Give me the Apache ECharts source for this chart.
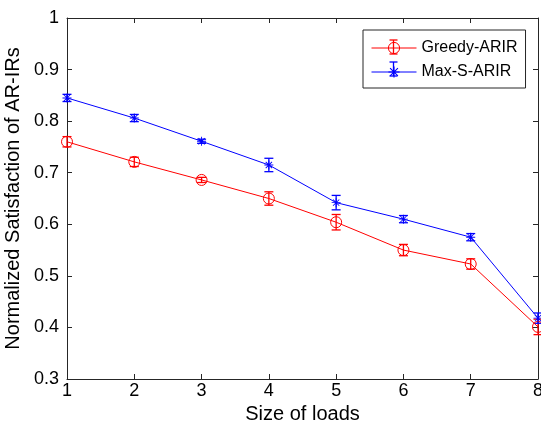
<!DOCTYPE html>
<html>
<head>
<meta charset="utf-8">
<script src="https://cdn.jsdelivr.net/npm/echarts@6/dist/echarts.min.js"></script>
<style>html,body{margin:0;padding:0;background:#fff}#c{width:541px;height:433px}</style>
</head>
<body>
<div id="c"></div>
<script>
var categories = [1, 2, 3, 4, 5, 6, 7, 8];
var greedy = [0.760, 0.721, 0.686, 0.650, 0.604, 0.550, 0.523, 0.401];
var greedyErr = [0.010, 0.009, 0.005, 0.013, 0.015, 0.011, 0.010, 0.015];
var maxS = [0.845, 0.806, 0.761, 0.715, 0.642, 0.610, 0.575, 0.418];
var maxSErr = [0.007, 0.007, 0.004, 0.013, 0.014, 0.007, 0.007, 0.010];
var yTicks = [0.3, 0.4, 0.5, 0.6, 0.7, 0.8, 0.9, 1];
var seriesNames = ['Greedy-ARIR', 'Max-S-ARIR'];

var RED = '#ff0000', BLUE = '#0000ff', AX = '#262626';
var FONT = 'Liberation Sans, Arial, sans-serif';
var asterisk = 'path://M-0.5,-5L0.5,-5L0.5,5L-0.5,5Z M-5,-0.5L5,-0.5L5,0.5L-5,0.5Z M-3.15,-3.85L3.85,3.15L3.15,3.85L-3.85,-3.15Z M3.15,-3.85L3.85,-3.15L-3.15,3.85L-3.85,3.15Z';

function pairs(vals) { return categories.map(function (c, i) { return [c, vals[i]]; }); }
function triples(vals, errs) { return categories.map(function (c, i) { return [c, vals[i], errs[i]]; }); }

function errRender(color) {
  return function (params, api) {
    var x = api.value(0), v = api.value(1), e = api.value(2);
    var t = api.coord([x, v + e]), b = api.coord([x, v - e]);
    var hw = 4.5;
    var st = { stroke: color, lineWidth: 1.3 };
    return {
      type: 'group',
      children: [
        { type: 'line', shape: { x1: t[0], y1: t[1], x2: b[0], y2: b[1] }, style: st },
        { type: 'line', shape: { x1: t[0] - hw, y1: t[1], x2: t[0] + hw, y2: t[1] }, style: st },
        { type: 'line', shape: { x1: b[0] - hw, y1: b[1], x2: b[0] + hw, y2: b[1] }, style: st }
      ]
    };
  };
}

var chart = echarts.init(document.getElementById('c'), null, { renderer: 'canvas' });
var gridL = 67, gridR = 3, gridT = 18, gridB = 54;
var lgX = 363, lgY = 30, iconCx = lgX + 8 + 22.5;

function legendErr(cy, color) {
  var st = { stroke: color, lineWidth: 1.3 };
  return [
    { type: 'line', shape: { x1: iconCx, y1: cy - 7, x2: iconCx, y2: cy + 7 }, style: st, z: 100 },
    { type: 'line', shape: { x1: iconCx - 4, y1: cy - 7, x2: iconCx + 4, y2: cy - 7 }, style: st, z: 100 },
    { type: 'line', shape: { x1: iconCx - 4, y1: cy + 7, x2: iconCx + 4, y2: cy + 7 }, style: st, z: 100 }
  ];
}

var axisLineStyle = { color: AX, width: 1 };
chart.setOption({
  animation: false,
  textStyle: { fontFamily: FONT },
  grid: { left: gridL, right: gridR, top: gridT, bottom: gridB, containLabel: false, outerBoundsMode: 'none' },
  legend: {
    left: lgX, top: lgY,
    orient: 'vertical',
    padding: [10, 8, 8, 8],
    itemGap: 8,
    itemWidth: 45, itemHeight: 14,
    borderColor: AX, borderWidth: 1,
    backgroundColor: '#fff',
    lineStyle: { width: 1 },
    itemStyle: { borderWidth: 1 },
    textStyle: { fontSize: 16, color: '#000', fontFamily: FONT },
    data: seriesNames
  },
  xAxis: [{
    type: 'value', min: 1, max: 8, interval: 1,
    name: 'Size of loads', nameLocation: 'middle', nameGap: 23,
    nameTextStyle: { fontSize: 20, color: '#000', fontFamily: FONT },
    axisLine: { show: true, onZero: false, lineStyle: axisLineStyle },
    axisTick: { show: true, inside: true, length: 5, lineStyle: axisLineStyle },
    axisLabel: { fontSize: 18, color: '#000', margin: 3, fontFamily: FONT },
    splitLine: { show: false }
  }, {
    type: 'value', min: 1, max: 8, interval: 1, position: 'top',
    axisLine: { show: true, onZero: false, lineStyle: axisLineStyle },
    axisTick: { show: true, inside: true, length: 5, lineStyle: axisLineStyle },
    axisLabel: { show: false }, splitLine: { show: false }
  }],
  yAxis: [{
    type: 'value', min: 0.3, max: 1, interval: 0.1,
    name: 'Normalized Satisfaction of AR-IRs', nameLocation: 'middle', nameGap: 39, nameRotate: 90,
    nameTextStyle: { fontSize: 20, color: '#000', fontFamily: FONT },
    axisLine: { show: true, onZero: false, lineStyle: axisLineStyle },
    axisTick: { show: true, inside: true, length: 5, lineStyle: axisLineStyle },
    axisLabel: { fontSize: 18, color: '#000', margin: 8, fontFamily: FONT,
      formatter: function (v) { return Math.abs(v - 1) < 1e-9 ? '1' : v.toFixed(1); } },
    splitLine: { show: false }
  }, {
    type: 'value', min: 0.3, max: 1, interval: 0.1, position: 'right',
    axisLine: { show: true, onZero: false, lineStyle: axisLineStyle },
    axisTick: { show: true, inside: true, length: 5, lineStyle: axisLineStyle },
    axisLabel: { show: false }, splitLine: { show: false }
  }],
  graphic: legendErr(lgY + 10 + 7, RED).concat(legendErr(lgY + 10 + 14 + 8 + 7, BLUE)),
  series: [{
    name: seriesNames[0], type: 'line', data: pairs(greedy),
    symbol: 'circle', symbolSize: 11, showAllSymbol: true,
    lineStyle: { color: RED, width: 1 },
    itemStyle: { color: 'transparent', borderColor: RED, borderWidth: 1 },
    z: 3
  }, {
    name: seriesNames[1], type: 'line', data: pairs(maxS),
    symbol: asterisk, symbolSize: 9, showAllSymbol: true,
    lineStyle: { color: BLUE, width: 1 },
    itemStyle: { color: BLUE, borderWidth: 0 },
    z: 3
  }, {
    name: seriesNames[0] + ' err', type: 'custom', data: triples(greedy, greedyErr),
    renderItem: errRender(RED), z: 2, clip: false, silent: true
  }, {
    name: seriesNames[1] + ' err', type: 'custom', data: triples(maxS, maxSErr),
    renderItem: errRender(BLUE), z: 2, clip: false, silent: true
  }]
});
</script>
</body>
</html>
